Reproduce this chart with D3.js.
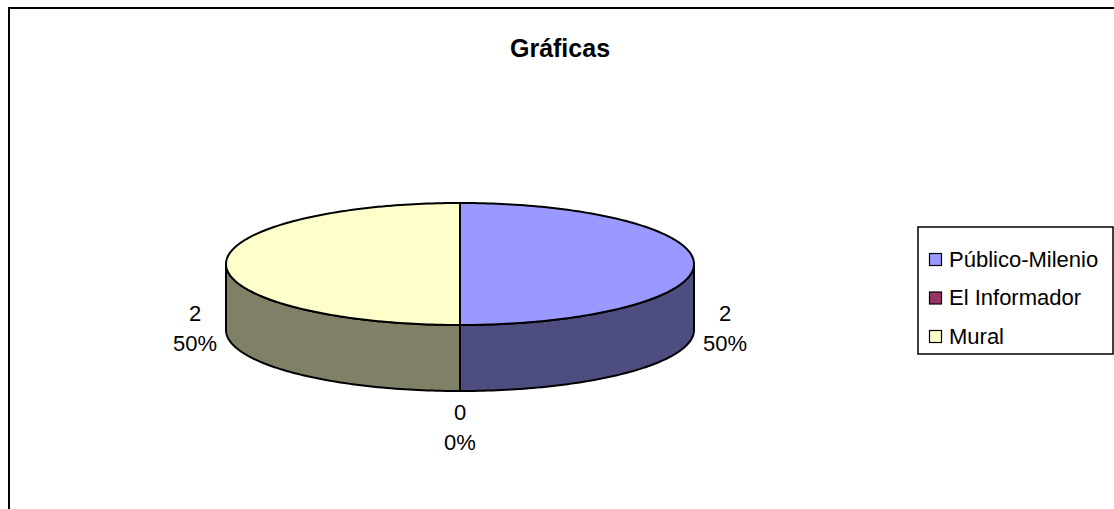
<!DOCTYPE html>
<html>
<head>
<meta charset="utf-8">
<script src="https://cdn.jsdelivr.net/npm/d3@7"></script>
<style>
  body { margin: 0; background: #fff; }
  svg { display: block; font-family: Arial, "Liberation Sans", sans-serif; }
</style>
</head>
<body>
<svg width="1114" height="509"></svg>
<script>
var categories = ['Público-Milenio', 'El Informador', 'Mural'];
var values = [2, 0, 2];
var topColors = ['#9999ff', '#993366', '#ffffcc'];
var sideColors = ['#4d4d80', '#4d1a33', '#808066'];

var svg = d3.select('svg');

// outer chart border (runs off the right and bottom edges)
svg.append('rect')
    .attr('x', 9).attr('y', 8)
    .attr('width', 1120).attr('height', 520)
    .attr('fill', 'none').attr('stroke', '#000').attr('stroke-width', 2);

svg.append('text')
    .attr('x', 560).attr('y', 57)
    .attr('text-anchor', 'middle')
    .attr('font-size', 25).attr('font-weight', 'bold')
    .text('Gráficas');

var cx = 460, cy = 264, rx = 234, ry = 61, depth = 66;

var total = d3.sum(values);
var data = categories.map((c, i) => ({ name: c, value: values[i], top: topColors[i], side: sideColors[i] }));
var arcs = d3.pie().sort(null).value(d => d.value)(data);

function px(a) { return cx + rx * Math.sin(a); }
function py(a) { return cy - ry * Math.cos(a); }

function arcPoints(a0, a1, dy) {
  var n = Math.max(2, Math.ceil(Math.abs(a1 - a0) / 0.02));
  return d3.range(n + 1).map(k => {
    var a = a0 + (a1 - a0) * k / n;
    return [px(a), py(a) + dy];
  });
}

var line = d3.line();

// side walls (front half only)
arcs.forEach(d => {
  if (d.endAngle - d.startAngle <= 0) return;
  var a0 = Math.max(d.startAngle, Math.PI / 2),
      a1 = Math.min(d.endAngle, Math.PI * 1.5);
  if (a1 <= a0) return;
  var pts = arcPoints(a0, a1, 0).concat(arcPoints(a1, a0, depth));
  svg.append('path')
      .attr('d', line(pts) + 'Z')
      .attr('fill', d.data.side)
      .attr('stroke', '#000').attr('stroke-width', 2)
      .attr('stroke-linejoin', 'round');
});

// top faces
arcs.forEach(d => {
  if (d.endAngle - d.startAngle <= 0) return;
  var pts = [[cx, cy]].concat(arcPoints(d.startAngle, d.endAngle, 0));
  svg.append('path')
      .attr('d', line(pts) + 'Z')
      .attr('fill', d.data.top)
      .attr('stroke', '#000').attr('stroke-width', 2)
      .attr('stroke-linejoin', 'round');
});

// data labels: value and percent
var fmt = d3.format('.0%');
arcs.forEach(d => {
  var m = (d.startAngle + d.endAngle) / 2;
  var bx = px(m), by = py(m) + depth;
  var lx = bx + Math.sin(m) * 31;
  var ly = by - Math.cos(m) * 29;
  var g = svg.append('text')
      .attr('text-anchor', 'middle')
      .attr('font-size', 22);
  var topBase = Math.cos(m) < -0.5 ? ly + 0 : ly - 9;
  g.append('tspan').attr('x', lx).attr('y', topBase).text(d.data.value);
  g.append('tspan').attr('x', lx).attr('y', topBase + 30).text(fmt(total ? d.data.value / total : 0));
});

// legend
var legend = svg.append('g');
legend.append('rect')
    .attr('x', 918).attr('y', 227)
    .attr('width', 195).attr('height', 127)
    .attr('fill', '#fff').attr('stroke', '#000').attr('stroke-width', 1.5);

var ly = d3.scalePoint().domain(categories).range([259, 336]);
categories.forEach((c, i) => {
  legend.append('rect')
      .attr('x', 929.5).attr('y', ly(c) - 5.5)
      .attr('width', 12).attr('height', 12)
      .attr('fill', topColors[i]).attr('stroke', '#000').attr('stroke-width', 1.2);
  legend.append('text')
      .attr('x', 949).attr('y', ly(c) + 7.5)
      .attr('font-size', 22)
      .text(c);
});
</script>
</body>
</html>
